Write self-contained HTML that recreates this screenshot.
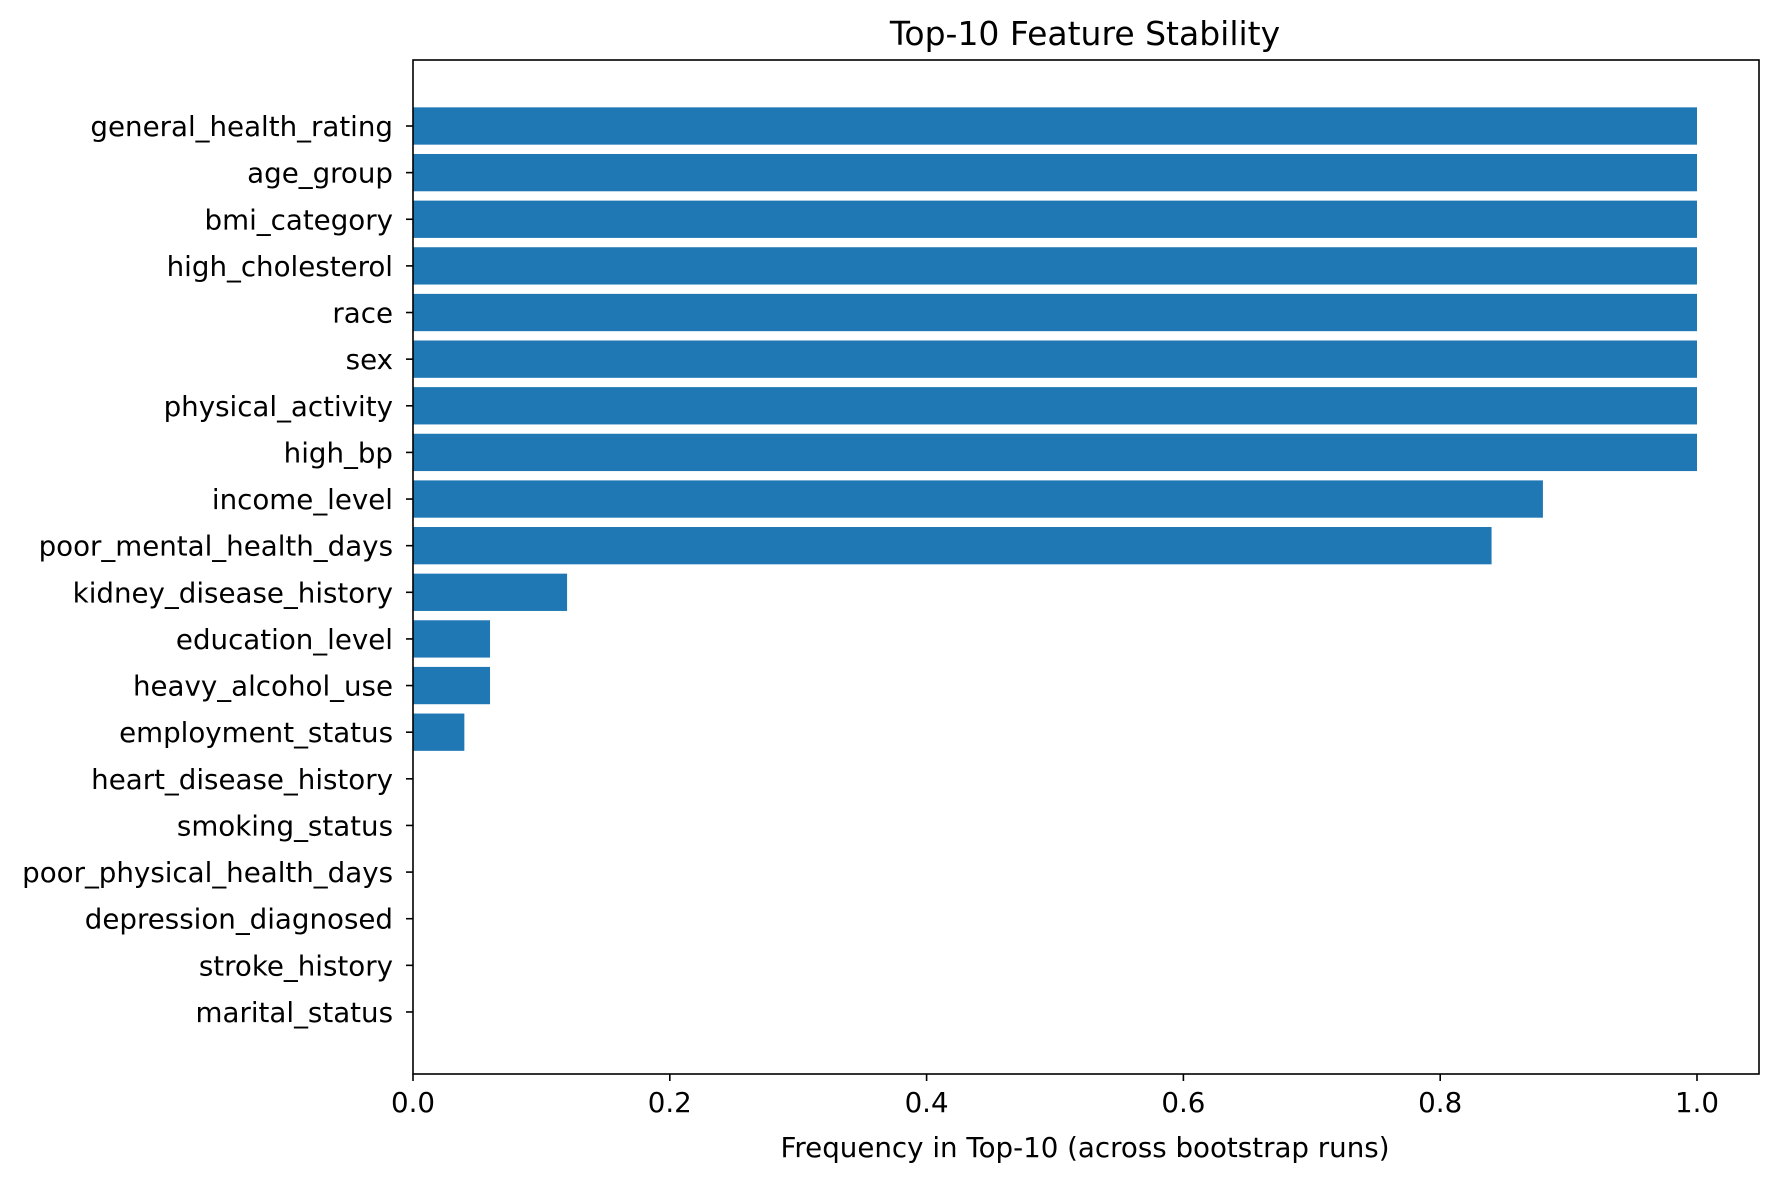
<!DOCTYPE html>
<html><head><meta charset="utf-8"><style>body{margin:0;background:#fff}svg{display:block;font-family:"DejaVu Sans","Liberation Sans",sans-serif}</style></head>
<body>
<svg id="chart" width="1779" height="1181" viewBox="0 0 1779 1181">
<rect width="1779" height="1181" fill="#fff"/>
<text x="1085" y="45" font-size="33" text-anchor="middle">Top-10 Feature Stability</text>
<g id="bars"></g>
<g id="yticks"></g>
<g id="xticks"></g>
<rect x="413" y="60" width="1346" height="1014" fill="none" stroke="#000" stroke-width="1.6"/>
<text x="1085" y="1157" font-size="27.7" text-anchor="middle">Frequency in Top-10 (across bootstrap runs)</text>
</svg>
<script>
const categories=["general_health_rating","age_group","bmi_category","high_cholesterol","race","sex","physical_activity","high_bp","income_level","poor_mental_health_days","kidney_disease_history","education_level","heavy_alcohol_use","employment_status","heart_disease_history","smoking_status","poor_physical_health_days","depression_diagnosed","stroke_history","marital_status"];
const values=[1,1,1,1,1,1,1,1,0.88,0.84,0.12,0.06,0.06,0.04,0,0,0,0,0,0];
const xTicks=[0,0.2,0.4,0.6,0.8,1.0];
const xTickLabels=["0.0","0.2","0.4","0.6","0.8","1.0"];
const NS="http://www.w3.org/2000/svg";
function xs(v){return 413+v*1284;}
function ys(i){return 126+i*46.63;}
const bh=37.3;
const gb=document.getElementById('bars'),gy=document.getElementById('yticks'),gx=document.getElementById('xticks');
categories.forEach((c,i)=>{
  const r=document.createElementNS(NS,'rect');
  r.setAttribute('x',xs(0));r.setAttribute('y',ys(i)-bh/2);
  r.setAttribute('width',Math.max(0,xs(values[i])-xs(0)));r.setAttribute('height',bh);
  r.setAttribute('fill','#1f77b4');
  
  
  gb.appendChild(r);
  const l=document.createElementNS(NS,'line');
  l.setAttribute('x1',406);l.setAttribute('x2',413);l.setAttribute('y1',ys(i));l.setAttribute('y2',ys(i));l.setAttribute('stroke','#000');l.setAttribute('stroke-width','1.6');
  
  
  gy.appendChild(l);
  const t=document.createElementNS(NS,'text');
  t.setAttribute('x',393);t.setAttribute('y',ys(i)+10);t.setAttribute('font-size','27.7');t.setAttribute('text-anchor','end');
  t.textContent=c;
  
  
  gy.appendChild(t);
});
xTicks.forEach((v,k)=>{
  const l=document.createElementNS(NS,'line');
  l.setAttribute('x1',xs(v));l.setAttribute('x2',xs(v));l.setAttribute('y1',1074);l.setAttribute('y2',1081);l.setAttribute('stroke','#000');l.setAttribute('stroke-width','1.6');
  
  
  gx.appendChild(l);
  const t=document.createElementNS(NS,'text');
  t.setAttribute('x',xs(v));t.setAttribute('y',1112);t.setAttribute('font-size','27.7');t.setAttribute('text-anchor','middle');
  t.textContent=xTickLabels[k];
  
  
  gx.appendChild(t);
});
</script>
</body></html>
